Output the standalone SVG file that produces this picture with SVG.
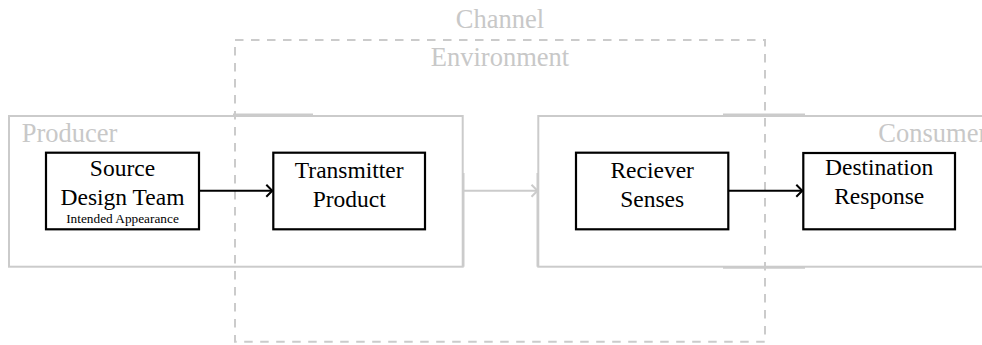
<svg xmlns="http://www.w3.org/2000/svg" width="982" height="345" viewBox="0 0 982 345">
<defs>
<style>
.grp{fill:none;stroke:#cbcbcb;stroke-width:2}
.dash{fill:none;stroke:#cbcbcb;stroke-width:2;stroke-dasharray:8.5 7.5}
.node{fill:#fff;stroke:#000;stroke-width:2.2}
.lbl{font-family:"Liberation Serif","Times New Roman",serif;font-size:26.5px;fill:#c8c8c8}
.txt{font-family:"Liberation Serif","Times New Roman",serif;font-size:23.5px;fill:#000;text-anchor:middle}
.small{font-family:"Liberation Serif","Times New Roman",serif;font-size:13.3px;fill:#000;text-anchor:middle}
.edge{fill:none;stroke:#000;stroke-width:2}
.gedge{fill:none;stroke:#cbcbcb;stroke-width:2}
</style>
<marker id="arr" viewBox="-8 -7 10 14" refX="0" refY="0" markerWidth="10" markerHeight="14" markerUnits="userSpaceOnUse" orient="auto">
<path d="M -6 -6 Q -1 -1 0 0 Q -1 1 -6 6" fill="none" stroke="#000" stroke-width="2"/>
</marker>
<marker id="garr" viewBox="-8 -7 10 14" refX="0" refY="0" markerWidth="10" markerHeight="14" markerUnits="userSpaceOnUse" orient="auto">
<path d="M -6 -6 Q -1 -1 0 0 Q -1 1 -6 6" fill="none" stroke="#cbcbcb" stroke-width="2"/>
</marker>
</defs>
<rect width="982" height="345" fill="#fff"/>

<g id="producer">
<rect class="grp" x="9" y="116" width="453.7" height="150.7"/>
<line class="grp" x1="233" y1="114.5" x2="313" y2="114.5"/>
<line class="grp" x1="463.5" y1="173" x2="463.5" y2="266.7"/>
<text class="lbl" x="21.7" y="142.3">Producer</text>
</g>

<g id="consumer">
<rect class="grp" x="538.3" y="116" width="460" height="150.7"/>
<line class="grp" x1="723" y1="114.5" x2="805" y2="114.5"/>
<line class="grp" x1="723" y1="267.7" x2="805" y2="267.7"/>
<line class="grp" x1="537.5" y1="173" x2="537.5" y2="266.7"/>
<text class="lbl" x="878.3" y="142.3">Consumer</text>
</g>

<g id="channel">
<rect class="dash" x="235" y="40" width="530" height="301.7"/>
<text class="lbl" x="500" y="28.3" text-anchor="middle">Channel</text>
<text class="lbl" x="500" y="66" text-anchor="middle">Environment</text>
</g>

<g id="connectors">
<line class="edge" x1="199" y1="190.7" x2="272.3" y2="190.7" marker-end="url(#arr)"/>
<line class="gedge" x1="463" y1="190.7" x2="537.5" y2="190.7" marker-end="url(#garr)"/>
<line class="edge" x1="728.3" y1="190.7" x2="802.3" y2="190.7" marker-end="url(#arr)"/>
</g>

<g id="source">
<rect class="node" x="46" y="152.7" width="153" height="76.6"/>
<text class="txt" x="122.5" y="176">Source</text>
<text class="txt" x="122.5" y="205">Design Team</text>
<text class="small" x="122.5" y="223.3">Intended Appearance</text>
</g>

<g id="transmitter">
<rect class="node" x="273.3" y="152.7" width="151.7" height="76.6"/>
<text class="txt" x="349.2" y="178.3">Transmitter</text>
<text class="txt" x="349.2" y="206.7">Product</text>
</g>

<g id="receiver">
<rect class="node" x="576" y="152.7" width="152.3" height="76.6"/>
<text class="txt" x="652.2" y="178.3">Reciever</text>
<text class="txt" x="652.2" y="206.7">Senses</text>
</g>

<g id="destination">
<rect class="node" x="803.3" y="153" width="151.7" height="76.3"/>
<text class="txt" x="879.2" y="175">Destination</text>
<text class="txt" x="879.2" y="204">Response</text>
</g>
</svg>
